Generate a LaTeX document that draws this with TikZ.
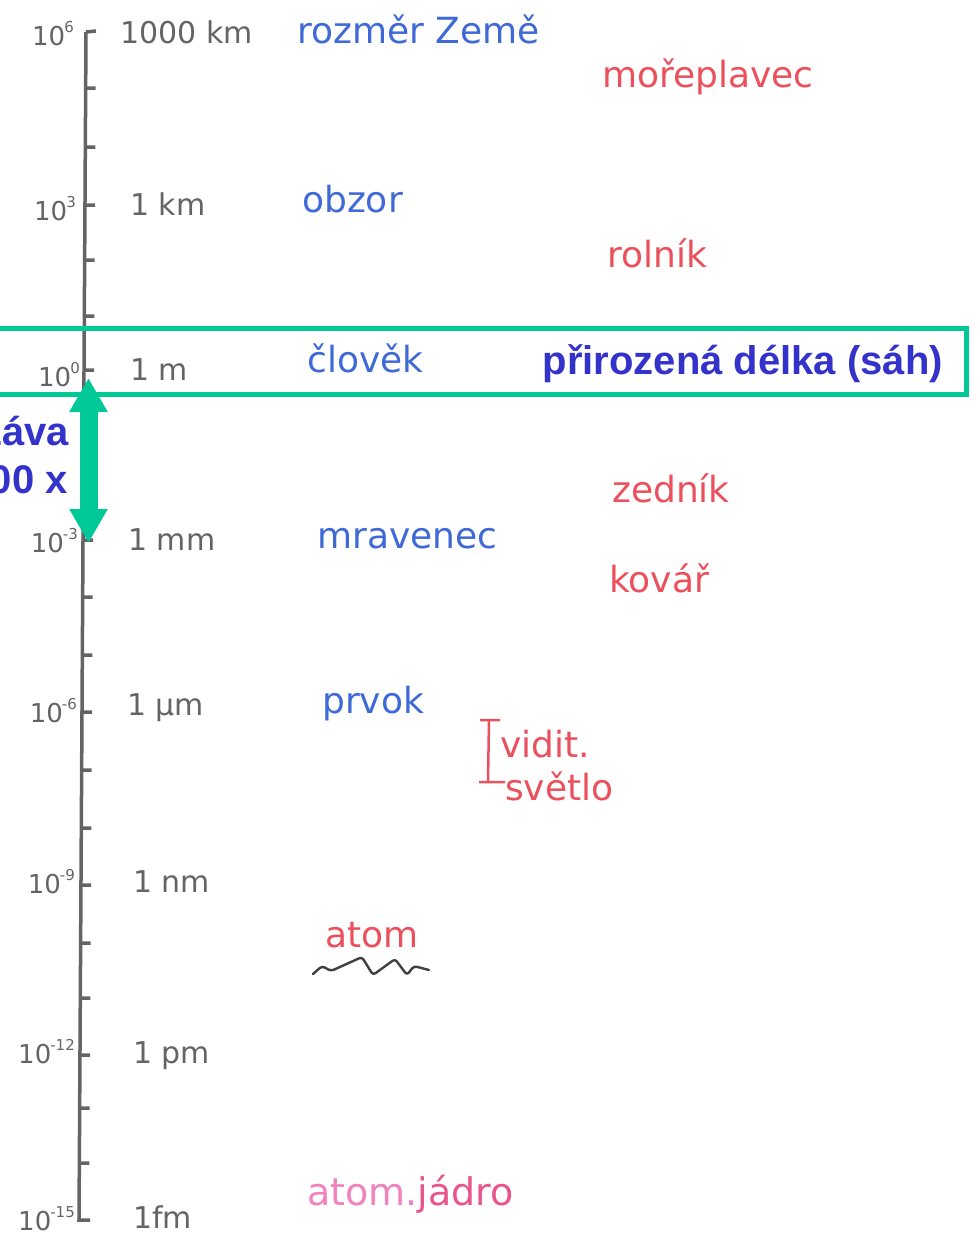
\documentclass[tikz,border=0pt]{standalone}
\usepackage{fontspec}
\setmainfont{DejaVu Sans}
\newfontfamily\headfont{Liberation Sans}
\usetikzlibrary{arrows.meta}

\definecolor{scalegray}{RGB}{100,100,100}
\definecolor{penblue}{RGB}{62,105,215}
\definecolor{penred}{RGB}{235,80,92}
\definecolor{penpink}{RGB}{240,130,190}
\definecolor{penrose}{RGB}{232,85,140}
\definecolor{marker}{RGB}{0,200,150}
\definecolor{slideblue}{RGB}{51,51,204}

\newcommand\tenpow[1]{10\kern-1pt\raisebox{0.5em}{\fontsize{15}{15}\selectfont#1}}

\begin{document}
\begin{tikzpicture}[x=1pt, y=-1pt, every node/.style={inner sep=0pt},
        axis/.style={draw=scalegray, line width=3.5pt},
        power/.style={anchor=base east, text=scalegray, font=\fontsize{26}{26}\selectfont},
        unit/.style={anchor=base west, text=scalegray, font=\fontsize{30}{30}\selectfont},
        thing/.style={anchor=base west, text=penblue, font=\fontsize{36}{36}\selectfont},
        craft/.style={anchor=base west, text=penred, font=\fontsize{36}{36}\selectfont},
        slide/.style={text=slideblue, font=\headfont\bfseries\fontsize{40}{48}\selectfont},
        twoway/.style={draw=marker, line width=18pt, {Triangle[length=34pt,width=36pt]}-{Triangle[length=34pt,width=36pt]}}]
            \useasboundingbox (0,0) rectangle (979,1254);

            % Scale
            \coordinate (top) at (86,32);
            \coordinate (bot) at (79,1220);
            \draw[axis] (top) -- (bot) -- ++(11,0);
            \draw[axis] (top) -- ++(10,-1)
                (85.7,88) -- ++(10,0) (85.3,147) -- ++(10,0) (85,205) -- ++(10,0)
                (84.7,260) -- ++(10,0) (84.3,316) -- ++(10,0) (84,370) -- ++(10,0)
                (83.7,427) -- ++(10,0) (83.3,483) -- ++(10,0) (83,540) -- ++(10,0)
                (82.7,597) -- ++(10,0) (82.3,655) -- ++(10,0) (82,712) -- ++(10,0)
                (81.7,770) -- ++(10,0) (81.3,828) -- ++(10,0) (81,885) -- ++(10,0)
                (80.6,943) -- ++(10,0) (80.3,998) -- ++(10,0) (80,1055) -- ++(10,0)
                (79.7,1108) -- ++(10,0) (79.3,1163) -- ++(10,0);

            \node (e6) [power] at (74,45) {\tenpow{6}};
            \node (e3) [power] at (76,220) {\tenpow{3}};
            \node (e0) [power] at (80,386) {\tenpow{0}};
            \node (em3) [power] at (78,552) {\tenpow{-3}};
            \node (em6) [power] at (77,722) {\tenpow{-6}};
            \node (em9) [power] at (75,893) {\tenpow{-9}};
            \node (em12) [power] at (75,1063) {\tenpow{-12}};
            \node (em15) [power] at (75,1230) {\tenpow{-15}};

            \node (u6) [unit] at (120,43) {1000 km};
            \node (u3) [unit] at (130,215) {1 km};
            \node (u0) [unit] at (130,380) {1 m};
            \node (um3) [unit] at (128,550) {1 mm};
            \node (um6) [unit] at (127,715) {1 μm};
            \node (um9) [unit] at (133,892) {1 nm};
            \node (um12) [unit] at (133,1063) {1 pm};
            \node (um15) [unit] at (133,1228) {1fm};

            % Things
            \node (earth) [thing] at (297,43) {rozměr Země};
            \node (horizon) [thing] at (302,212) {obzor};
            \node (human) [thing] at (307,372) {člověk};
            \node (ant) [thing] at (317,548) {mravenec};
            \node (protist) [thing] at (322,713) {prvok};

            % Crafts
            \node (sailor) [craft] at (602,87) {mořeplavec};
            \node (farmer) [craft] at (607,267) {rolník};
            \node (mason) [craft] at (612,502) {zedník};
            \node (smith) [craft] at (609,592) {kovář};
            \draw[penred, line width=2.5pt] (480,720) -- (500,720) (489,720) -- (488,782) (479,782) -- (505,782);
            \node (vis) [craft] at (500,757) {vidit.};
            \node (light) [craft] at (505,800) {světlo};
            \node (atom) [craft] at (325,947) {atom};
            \draw[black!75, line width=2.4pt, line cap=round, line join=round, rounded corners=3pt]
                (313,974) -- (322,966) -- (331,971) -- (362,957) -- (373,975) -- (395,959) -- (407,975) -- (414,966) -- (429,970);
            \node (nucleus) [craft, font=\fontsize{38}{38}\selectfont, text=penrose] at (307,1205) {{\color{penpink}atom.}jádro};

            % Natural length
            \draw[marker, line width=5pt] (-10,328) rectangle (966,394);
            \node (fathom) [slide, anchor=base east] at (943,374) {přirozená délka (sáh)};
            \coordinate (up) at (88.5,378);
            \coordinate (down) at (88.5,543);
            \draw[twoway] (up) -- (down);
            \node (gap1) [slide, anchor=base east] at (69,445) {záva};
            \node (gap2) [slide, anchor=base east] at (68,493) {00 x};
        \end{tikzpicture}
\end{document}
